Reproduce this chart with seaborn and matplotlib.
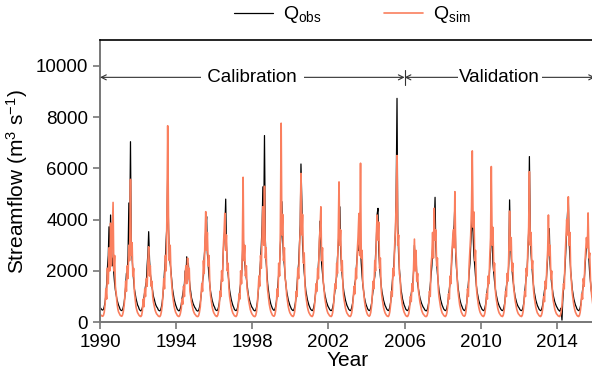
import numpy as np
import pandas as pd
import matplotlib
matplotlib.use("Agg")
import matplotlib.pyplot as plt
import seaborn as sns

# Semi-monthly streamflow (m3/s), one row per year (1990-2015)
q_obs = [
    560, 520, 480, 470, 500, 600, 780, 1050, 1500, 2100, 2600, 3720, 2500, 4180, 2900, 2200, 2500, 1900, 1500, 1250, 1050, 880, 760, 660,
    580, 500, 460, 450, 480, 580, 760, 1000, 1400, 1900, 2000, 2600, 4650, 3000, 7040, 3200, 2500, 2000, 1600, 1300, 1100, 920, 780, 670,
    600, 510, 460, 440, 470, 560, 720, 950, 1200, 1400, 1600, 2200, 2700, 3530, 2400, 1900, 1600, 1400, 1200, 1000, 880, 760, 660, 600,
    550, 480, 450, 440, 470, 580, 780, 1050, 1500, 2000, 2500, 3200, 3800, 5800, 3600, 2600, 2300, 2000, 1600, 1300, 1080, 900, 770, 670,
    580, 500, 460, 440, 460, 540, 680, 900, 1100, 1300, 1500, 2000, 1700, 2550, 1800, 2300, 1700, 1400, 1150, 950, 820, 720, 640, 580,
    530, 470, 440, 430, 460, 560, 740, 1000, 1300, 1600, 1800, 2500, 3000, 3600, 4120, 2700, 2200, 1800, 1450, 1200, 1000, 850, 740, 650,
    580, 500, 460, 450, 480, 580, 770, 1050, 1400, 1700, 2000, 2700, 3300, 3600, 4800, 3000, 2300, 1900, 1550, 1250, 1050, 880, 760, 660,
    580, 500, 460, 450, 470, 560, 740, 1000, 1300, 1500, 1800, 2400, 3430, 2800, 2300, 2000, 1700, 1450, 1200, 1000, 860, 750, 660, 590,
    540, 480, 450, 440, 470, 580, 780, 1100, 1500, 1900, 2400, 3000, 3800, 5280, 4000, 7280, 3200, 2400, 1900, 1500, 1200, 980, 820, 700,
    610, 530, 480, 460, 490, 590, 800, 1100, 1500, 1900, 2300, 3000, 3500, 4700, 3200, 2600, 2200, 1800, 1450, 1200, 1000, 860, 750, 660,
    580, 510, 470, 450, 480, 580, 780, 1050, 1450, 1900, 2300, 3000, 3800, 6170, 4700, 3000, 2400, 1950, 1550, 1250, 1050, 880, 760, 660,
    580, 510, 470, 450, 470, 560, 740, 1000, 1300, 1500, 1700, 2300, 2900, 3940, 3000, 2300, 1900, 1600, 1300, 1100, 930, 800, 700, 620,
    560, 500, 460, 450, 470, 560, 740, 1000, 1300, 1550, 1800, 2500, 3000, 3600, 4500, 2800, 2200, 1800, 1450, 1200, 1000, 860, 740, 650,
    580, 510, 470, 450, 470, 560, 730, 980, 1250, 1500, 1700, 2200, 2600, 3000, 2800, 3600, 2900, 2300, 1800, 1450, 1180, 960, 800, 690,
    600, 520, 470, 450, 470, 560, 740, 1000, 1300, 1550, 1800, 2600, 3200, 4200, 4440, 2800, 2200, 1800, 1450, 1200, 1000, 860, 740, 650,
    580, 510, 470, 450, 480, 580, 780, 1100, 1500, 1900, 2200, 2800, 3500, 4800, 8730, 3800, 2600, 2100, 1650, 1300, 1080, 900, 770, 670,
    590, 510, 470, 450, 470, 540, 680, 880, 1100, 1300, 1500, 2000, 3000, 2300, 2600, 1800, 1500, 1300, 1100, 950, 830, 730, 650, 590,
    540, 480, 450, 440, 470, 570, 760, 1050, 1450, 1800, 2200, 2900, 3300, 3600, 4870, 3000, 2300, 1900, 1550, 1250, 1050, 880, 760, 660,
    580, 510, 470, 450, 470, 560, 740, 1000, 1300, 1550, 1800, 2400, 2900, 3400, 3800, 4600, 2600, 2100, 1700, 1350, 1100, 920, 780, 680,
    600, 520, 470, 450, 480, 580, 780, 1100, 1500, 1900, 2300, 3000, 3600, 4180, 3400, 2600, 2200, 1800, 1450, 1200, 1000, 860, 740, 650,
    580, 510, 470, 450, 470, 560, 740, 1000, 1300, 1500, 1600, 2200, 2800, 3870, 3200, 2300, 1900, 1600, 1300, 1100, 930, 800, 700, 620,
    560, 500, 460, 450, 480, 580, 780, 1100, 1400, 1600, 1700, 2300, 4770, 3200, 2600, 2100, 1700, 1450, 1200, 1000, 860, 750, 660, 600,
    550, 490, 460, 450, 480, 580, 780, 1100, 1450, 1800, 2000, 2700, 3500, 6460, 3600, 2700, 2200, 1800, 1450, 1200, 1000, 860, 740, 650,
    580, 510, 470, 450, 470, 560, 730, 980, 1250, 1400, 1500, 2000, 2600, 3000, 3650, 2300, 1800, 1500, 1250, 1050, 900, 780, 690, 620,
    560, 500, 460, 430, 480, 550, 80, 800, 1300, 1700, 2200, 2900, 3600, 4200, 4830, 3200, 2500, 2000, 1600, 1300, 1080, 900, 770, 670,
    590, 510, 470, 450, 470, 560, 730, 980, 1250, 1450, 1600, 2100, 2600, 2900, 3000, 3220, 2400, 1900, 1550, 1250, 1050, 880, 760, 660,
]
q_sim = [
    300, 260, 240, 230, 270, 380, 700, 1300, 900, 2100, 1500, 2900, 2000, 3860, 2200, 3300, 4670, 2000, 2600, 1400, 1100, 750, 520, 400,
    330, 270, 240, 230, 280, 400, 650, 1000, 1600, 1200, 2200, 1700, 3000, 2400, 5570, 2600, 3100, 1800, 2100, 1200, 850, 600, 460, 370,
    310, 260, 230, 220, 260, 420, 900, 600, 1300, 1000, 1700, 1400, 2400, 2940, 1800, 2200, 1400, 1600, 1000, 780, 600, 470, 380, 320,
    280, 240, 220, 220, 270, 400, 650, 1100, 1700, 1300, 2600, 2000, 4300, 7660, 3600, 2400, 3000, 1900, 1500, 1100, 820, 620, 480, 380,
    320, 260, 230, 220, 250, 340, 520, 900, 700, 1400, 1000, 1900, 2200, 1500, 2500, 1700, 2100, 1200, 1000, 780, 600, 470, 380, 320,
    280, 240, 220, 220, 260, 380, 600, 1000, 1500, 1200, 2400, 1900, 3300, 4310, 2800, 3500, 2200, 2600, 1500, 1050, 800, 600, 460, 370,
    310, 260, 230, 220, 270, 400, 700, 1200, 1000, 2000, 1600, 2900, 3500, 4250, 2800, 3400, 2000, 2300, 1350, 1000, 760, 580, 450, 360,
    300, 250, 230, 220, 260, 380, 700, 1100, 900, 2000, 1500, 2700, 5650, 2400, 3000, 1800, 2200, 1300, 1100, 850, 650, 500, 400, 330,
    280, 240, 220, 220, 270, 400, 750, 1200, 1800, 1400, 2600, 2100, 3500, 4500, 3000, 5300, 2500, 2900, 1650, 1250, 930, 700, 530, 410,
    330, 270, 240, 230, 280, 420, 750, 1300, 1000, 2300, 1800, 3500, 7760, 3400, 4200, 2400, 2900, 1700, 1500, 1050, 800, 600, 460, 370,
    310, 260, 230, 220, 270, 400, 700, 1200, 1000, 2100, 1700, 2800, 3600, 5800, 3400, 4200, 2300, 2700, 1400, 1050, 800, 600, 460, 370,
    310, 260, 230, 220, 260, 370, 650, 1000, 1500, 1200, 2100, 1700, 3100, 3600, 4500, 2400, 2900, 1600, 1300, 950, 720, 550, 430, 350,
    300, 250, 230, 220, 260, 370, 650, 1100, 1500, 1300, 2300, 1900, 3500, 5470, 3000, 3600, 2000, 2400, 1250, 950, 720, 550, 430, 350,
    300, 250, 230, 220, 260, 360, 600, 1000, 1400, 1100, 2100, 1700, 2800, 3300, 4240, 2600, 6200, 2500, 2800, 1550, 1150, 850, 620, 470,
    360, 290, 250, 230, 270, 380, 650, 1100, 1600, 1300, 2400, 2000, 3400, 4180, 3200, 3900, 2100, 2500, 1300, 1000, 760, 580, 450, 360,
    300, 250, 230, 220, 270, 400, 700, 1200, 1000, 2100, 1800, 2900, 3600, 4600, 6500, 3000, 3400, 1900, 1700, 1100, 830, 630, 490, 390,
    320, 260, 230, 220, 250, 340, 600, 1000, 800, 1500, 1200, 2200, 3240, 2000, 2800, 1600, 1900, 1250, 1000, 780, 600, 470, 380, 320,
    280, 240, 220, 220, 260, 380, 700, 1200, 1000, 2200, 2600, 3500, 2500, 4440, 3200, 3600, 2200, 2500, 1350, 1000, 760, 580, 450, 360,
    310, 260, 230, 220, 260, 370, 650, 1100, 900, 1800, 1500, 2600, 3100, 3600, 2900, 5090, 2800, 2400, 1600, 1200, 900, 680, 520, 400,
    330, 270, 240, 230, 270, 400, 700, 1300, 1000, 2200, 2900, 3400, 4500, 6680, 3700, 4300, 2400, 2800, 1400, 1050, 800, 600, 460, 370,
    310, 260, 230, 220, 260, 370, 650, 1100, 900, 1800, 1500, 2500, 3300, 6070, 3000, 3700, 2000, 2300, 1250, 950, 720, 550, 430, 350,
    300, 250, 230, 220, 270, 400, 700, 1200, 1000, 1900, 1600, 2600, 4330, 2800, 3300, 2000, 2300, 1400, 1100, 850, 650, 500, 400, 330,
    290, 250, 230, 220, 270, 400, 700, 1200, 1000, 2100, 1800, 2900, 3700, 5870, 3000, 3500, 2100, 2400, 1300, 1000, 760, 580, 450, 360,
    310, 260, 230, 220, 260, 360, 600, 1000, 800, 1600, 1300, 2200, 2800, 4180, 2600, 3000, 1700, 2000, 1100, 850, 650, 500, 400, 330,
    290, 250, 230, 220, 260, 380, 650, 1100, 1500, 1300, 2600, 3200, 4000, 3400, 4890, 3000, 3500, 2000, 1550, 1150, 870, 660, 500, 390,
    320, 260, 230, 220, 260, 370, 650, 1100, 900, 1700, 1400, 2300, 2800, 3300, 2900, 4260, 2500, 2700, 1600, 1200, 900, 680, 520, 400,
]
dates = pd.date_range("1990-01-01", periods=len(q_obs), freq="SMS") + pd.Timedelta(days=7)
tick_years = [1990, 1994, 1998, 2002, 2006, 2010, 2014]

obs_label = r"Q$_{\rm obs}$"
sim_label = r"Q$_{\rm sim}$"
df = pd.DataFrame({
    "date": np.concatenate([dates, dates]),
    "flow": q_obs + q_sim,
    "series": [obs_label] * len(q_obs) + [sim_label] * len(q_sim),
})

sns.set_style("ticks")
plt.rcParams["font.family"] = ["Liberation Sans", "DejaVu Sans"]
plt.rcParams["mathtext.fontset"] = "custom"
plt.rcParams["mathtext.rm"] = "Liberation Sans"
plt.rcParams["mathtext.it"] = "Liberation Sans:italic"
plt.rcParams["text.color"] = "black"
plt.rcParams["axes.labelcolor"] = "black"
plt.rcParams["xtick.labelcolor"] = "black"
plt.rcParams["ytick.labelcolor"] = "black"

fig = plt.figure(figsize=(5.92, 3.72), dpi=100)
ax = fig.add_axes([0.169, 0.134, 0.836, 0.758])

sns.lineplot(data=df, x="date", y="flow", hue="series",
             hue_order=[obs_label, sim_label],
             palette={obs_label: "black", sim_label: "#fa7f5e"},
             linewidth=0.9, estimator=None, ax=ax)
# the simulated series reads a little heavier in the reference
ax.lines[1].set_linewidth(1.2)

ax.set_xlim(pd.Timestamp("1990-01-01"), pd.Timestamp("2016-01-01"))
ax.set_ylim(0, 11000)
ax.set_yticks([0, 2000, 4000, 6000, 8000, 10000])
ax.set_xticks([pd.Timestamp(f"{y}-01-01") for y in tick_years])
ax.set_xticklabels([str(y) for y in tick_years])
ax.tick_params(labelsize=13.5, length=5, width=1.2, color="#777777", labelcolor="black")
ax.set_xlabel("Year", fontsize=15, labelpad=0)
ax.set_ylabel(r"Streamflow (m$^{3}$ s$^{-1}$)", fontsize=15)

for side in ["left", "bottom"]:
    ax.spines[side].set_color("#777777")
    ax.spines[side].set_linewidth(1.4)
ax.spines["top"].set_color("black")
ax.spines["top"].set_linewidth(1.2)
ax.spines["right"].set_visible(False)

# Calibration / validation period arrows
t0, t1, t2 = pd.Timestamp("1990-01-01"), pd.Timestamp("2006-01-01"), pd.Timestamp("2016-01-01")
arrow = dict(arrowstyle="<->", lw=0.8, color="#333333", shrinkA=0, shrinkB=0, mutation_scale=9)
ax.annotate("", xy=(t0, 9550), xytext=(t1, 9550), arrowprops=arrow)
ax.annotate("", xy=(t1, 9550), xytext=(t2, 9550), arrowprops=arrow)
ax.plot([t1, t1], [9250, 9850], color="#333333", lw=0.8)
ax.text(pd.Timestamp("1998-01-01"), 9550, " Calibration ", ha="center", va="center", fontsize=13.5,
        bbox=dict(facecolor="white", edgecolor="none", pad=1))
ax.text(pd.Timestamp("2011-01-01"), 9550, "Validation", ha="center", va="center", fontsize=13.5,
        bbox=dict(facecolor="white", edgecolor="none", pad=1))

sns.move_legend(ax, "lower center", bbox_to_anchor=(0.51, 0.99), ncol=2, frameon=False,
                title=None, fontsize=14, handlelength=2.0, handletextpad=0.5, columnspacing=3.2)
leg_lines = ax.get_legend().get_lines()
leg_lines[0].set_linewidth(0.9)
leg_lines[1].set_linewidth(1.2)

fig.savefig("out.png", dpi=100)
